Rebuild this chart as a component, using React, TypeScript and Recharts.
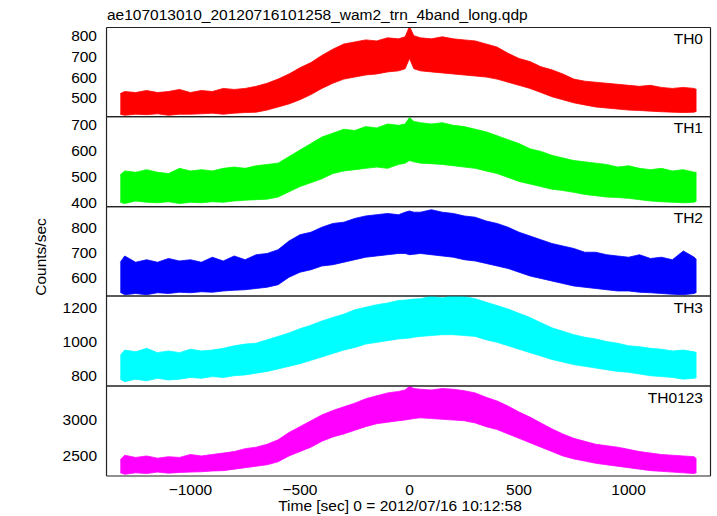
import { AreaChart, Area, XAxis, YAxis } from 'recharts';

const FONT = '"Liberation Sans", Arial, Helvetica, sans-serif';
const W = 717;
const H = 516;
const PLOT_LEFT = 106.5;
const PLOT_RIGHT = 710.5;
const FRAME = '#222';
const THIN = 0.01; // axes need a non-zero box to be drawn

// time bins [sec], with the low / high edge of the noisy band
const TIMES = [
  -1320, -1300, -1250, -1200, -1150, -1100, -1050, -1000, -950, -900, -850, -800, -750, -700, -650, -600,
  -550, -500, -450, -400, -350, -300, -250, -200, -150, -100, -50, -20, 0, 20, 50, 100, 150, 200, 250, 300,
  350, 400, 450, 500, 550, 600, 650, 700, 750, 800, 850, 900, 950, 1000, 1050, 1100, 1150, 1200, 1250, 1300, 1310,
];

const TH0_LO = [
  420, 415, 420, 418, 422, 415, 420, 420, 422, 425, 420, 425, 428, 430, 440, 455, 470, 490, 515, 545, 570, 590,
  600, 610, 615, 625, 630, 640, 690, 640, 630, 625, 620, 615, 610, 605, 600, 590, 575, 560, 545, 525, 505, 490,
  475, 465, 455, 450, 445, 440, 438, 435, 432, 430, 428, 430, 435,
];
const TH0_HI = [
  520, 530, 525, 535, 525, 530, 540, 525, 535, 530, 545, 540, 545, 555, 570, 590, 615, 645, 670, 705, 735, 760,
  770, 780, 775, 790, 785, 795, 845, 800, 790, 785, 795, 785, 780, 775, 760, 745, 715, 690, 675, 650, 635, 615,
  590, 580, 575, 570, 565, 560, 555, 560, 550, 545, 550, 545, 540,
];

const TH1_LO = [
  400, 395, 405, 400, 398, 402, 395, 400, 398, 402, 400, 405, 408, 410, 412, 420, 440, 460, 475, 490, 510, 520,
  525, 530, 535, 530, 545, 550, 560, 555, 550, 548, 545, 540, 535, 530, 520, 510, 495, 480, 470, 460, 450, 445,
  438, 430, 425, 420, 418, 415, 410, 405, 402, 400, 398, 400, 405,
];
const TH1_HI = [
  505, 520, 515, 525, 515, 510, 530, 520, 525, 520, 530, 535, 530, 540, 545, 550, 575, 600, 625, 650, 665, 680,
  675, 690, 685, 700, 695, 700, 725, 710, 705, 700, 705, 695, 690, 680, 670, 655, 640, 625, 605, 595, 580, 570,
  560, 555, 550, 545, 535, 540, 530, 525, 530, 520, 525, 515, 515,
];

const TH2_LO = [
  540, 530, 535, 530, 538, 535, 540, 538, 542, 540, 545, 548, 550, 555, 560, 570, 600, 620, 630, 645, 650, 660,
  670, 680, 685, 690, 695, 695, 690, 692, 695, 690, 685, 680, 670, 665, 655, 645, 635, 620, 605, 595, 585, 575,
  565, 560, 555, 550, 545, 545, 540, 538, 535, 532, 530, 535, 540,
];
const TH2_HI = [
  660, 685, 660, 670, 660, 675, 665, 670, 660, 680, 665, 685, 670, 690, 695, 710, 745, 770, 780, 800, 815, 820,
  835, 845, 850, 855, 850, 860, 865, 860, 860, 870, 860, 855, 845, 840, 825, 815, 800, 780, 765, 750, 735, 725,
  715, 700, 700, 690, 685, 680, 690, 675, 680, 670, 705, 680, 670,
];

const TH3_LO = [
  780, 765, 780, 770, 785, 775, 780, 790, 785, 795, 790, 800, 805, 815, 825, 840, 855, 870, 890, 910, 930, 950,
  965, 985, 995, 1005, 1015, 1018, 1020, 1025, 1030, 1035, 1040, 1040, 1035, 1030, 1010, 995, 975, 955, 935, 915,
  895, 880, 865, 855, 845, 835, 825, 820, 810, 800, 795, 790, 780, 785, 790,
];
const TH3_HI = [
  920, 950, 940, 960, 935, 945, 935, 955, 945, 950, 960, 975, 985, 990, 1010, 1030, 1050, 1075, 1095, 1120, 1140,
  1160, 1185, 1200, 1215, 1225, 1240, 1242, 1245, 1248, 1250, 1265, 1255, 1270, 1262, 1250, 1230, 1210, 1190, 1165,
  1140, 1110, 1080, 1060, 1040, 1025, 1015, 1000, 990, 975, 970, 960, 955, 945, 950, 940, 935,
];

const TH0123_LO = [
  2270, 2250, 2270, 2260, 2280, 2265, 2275, 2280, 2285, 2295, 2300, 2320, 2340, 2360, 2380, 2420, 2500, 2560, 2620,
  2700, 2760, 2800, 2850, 2900, 2940, 2960, 2980, 2990, 3000, 3010, 3020, 3010, 3000, 2990, 2980, 2950, 2900, 2860,
  2800, 2740, 2680, 2620, 2560, 2500, 2460, 2430, 2400, 2380, 2360, 2340, 2320, 2300, 2290, 2280, 2270, 2260, 2275,
];
const TH0123_HI = [
  2450, 2510, 2480, 2500, 2470, 2490, 2480, 2520, 2500, 2520, 2540, 2560, 2600, 2620, 2660, 2720, 2820, 2900, 2980,
  3060, 3120, 3170, 3220, 3280, 3320, 3360, 3380, 3400, 3450, 3420, 3410, 3400, 3420, 3410, 3390, 3360, 3300, 3250,
  3180, 3100, 3030, 2950, 2870, 2800, 2740, 2700, 2660, 2640, 2620, 2590, 2560, 2540, 2520, 2510, 2500, 2490, 2460,
];

const X_DOMAIN: [number, number] = [-1383, 1374];
const X_LABELS = [-1000, -500, 0, 500, 1000];

const steps = (from: number, to: number, step: number) => {
  const out: number[] = [];
  for (let v = from; v <= to + 1e-9; v += step) out.push(v);
  return out;
};
const X_MINOR = steps(-1300, 1300, 100);

const PANELS = [
  { name: 'TH0', color: '#ff0000', lo: TH0_LO, hi: TH0_HI, top: 27.5, bottom: 116.7, domain: [408, 840], labels: [500, 600, 700, 800], minor: steps(420, 840, 20) },
  { name: 'TH1', color: '#00ff00', lo: TH1_LO, hi: TH1_HI, top: 116.7, bottom: 206.7, domain: [383, 728], labels: [400, 500, 600, 700], minor: steps(400, 720, 20) },
  { name: 'TH2', color: '#0000ff', lo: TH2_LO, hi: TH2_HI, top: 206.7, bottom: 296, domain: [525, 882], labels: [600, 700, 800], minor: steps(540, 880, 20) },
  { name: 'TH3', color: '#00ffff', lo: TH3_LO, hi: TH3_HI, top: 296, bottom: 386, domain: [740, 1266], labels: [800, 1000, 1200], minor: steps(750, 1250, 50) },
  { name: 'TH0123', color: '#ff00ff', lo: TH0123_LO, hi: TH0123_HI, top: 386, bottom: 476, domain: [2227, 3454], labels: [2500, 3000], minor: steps(2300, 3400, 100) },
];

const fmt = (v: number) => (v < 0 ? `\u2212${-v}` : `${v}`);
const tickText = { fontSize: 15.5, fill: '#000', fontFamily: FONT };
const frameLine = { stroke: FRAME, strokeWidth: 1.2 };

function Panel({ p, last }: { p: (typeof PANELS)[number]; last: boolean }) {
  const rows = TIMES.map((t, i) => ({ t, r: [p.lo[i], p.hi[i]] }));
  const dom = p.domain as [number, number];
  return (
    <div style={{ position: 'absolute', left: 0, top: 0 }}>
      <AreaChart
        width={W}
        height={H}
        data={rows}
        margin={{ top: p.top, bottom: H - p.bottom, left: PLOT_LEFT, right: W - PLOT_RIGHT }}
      >
        <XAxis xAxisId="b" dataKey="t" type="number" domain={X_DOMAIN} allowDataOverflow orientation="bottom" mirror height={THIN}
          ticks={X_LABELS} interval={0} tickSize={5} tick={false} axisLine={frameLine} tickLine={frameLine} />
        <XAxis xAxisId="bm" dataKey="t" type="number" domain={X_DOMAIN} allowDataOverflow orientation="bottom" mirror height={THIN}
          ticks={X_MINOR} interval={0} tickSize={2.5} tick={false} axisLine={false} tickLine={frameLine} />
        <XAxis xAxisId="t" dataKey="t" type="number" domain={X_DOMAIN} allowDataOverflow orientation="top" mirror height={THIN}
          ticks={X_LABELS} interval={0} tickSize={5} tick={false} axisLine={frameLine} tickLine={frameLine} />
        <XAxis xAxisId="tm" dataKey="t" type="number" domain={X_DOMAIN} allowDataOverflow orientation="top" mirror height={THIN}
          ticks={X_MINOR} interval={0} tickSize={2.5} tick={false} axisLine={false} tickLine={frameLine} />
        {last && (
          <XAxis xAxisId="lab" dataKey="t" type="number" domain={X_DOMAIN} allowDataOverflow orientation="bottom" height={THIN}
            ticks={X_LABELS} interval={0} tickSize={0} tickMargin={8} tick={tickText} tickFormatter={fmt}
            axisLine={false} tickLine={false} />
        )}
        <YAxis yAxisId="l" type="number" domain={dom} allowDataOverflow orientation="left" mirror width={THIN}
          ticks={p.labels} interval={0} tickSize={5} tick={false} axisLine={frameLine} tickLine={frameLine} />
        <YAxis yAxisId="lm" type="number" domain={dom} allowDataOverflow orientation="left" mirror width={THIN}
          ticks={p.minor} interval={0} tickSize={2.5} tick={false} axisLine={false} tickLine={frameLine} />
        <YAxis yAxisId="r" type="number" domain={dom} allowDataOverflow orientation="right" mirror width={THIN}
          ticks={p.labels} interval={0} tickSize={5} tick={false} axisLine={frameLine} tickLine={frameLine} />
        <YAxis yAxisId="rm" type="number" domain={dom} allowDataOverflow orientation="right" mirror width={THIN}
          ticks={p.minor} interval={0} tickSize={2.5} tick={false} axisLine={false} tickLine={frameLine} />
        <YAxis yAxisId="lab" type="number" domain={dom} allowDataOverflow orientation="left" width={THIN}
          ticks={p.labels} interval={0} tickSize={0} tickMargin={9.5} tick={tickText}
          axisLine={false} tickLine={false} />
        <Area
          xAxisId="b"
          yAxisId="l"
          dataKey="r"
          type="linear"
          stroke={p.color}
          strokeWidth={0.8}
          fill={p.color}
          fillOpacity={1}
          dot={false}
          activeDot={false}
          isAnimationActive={false}
        />
      </AreaChart>
    </div>
  );
}

export default function App() {
  return (
    <div style={{ position: 'absolute', left: 0, top: 0, width: W, height: H, background: '#fff', fontFamily: FONT }}>
      {PANELS.map((p, i) => (
        <Panel key={p.name} p={p} last={i === PANELS.length - 1} />
      ))}
      <svg width={W} height={H} style={{ position: 'absolute', left: 0, top: 0, pointerEvents: 'none' }}>
        <text x={107} y={20} fontSize={15.5} fontFamily={FONT} fill="#000">
          ae107013010_20120716101258_wam2_trn_4band_long.qdp
        </text>
        <text x={46} y={257} fontSize={15.5} fontFamily={FONT} fill="#000" textAnchor="middle" transform="rotate(-90 46 257)">
          Counts/sec
        </text>
        <text x={400} y={511} fontSize={15.5} fontFamily={FONT} fill="#000" textAnchor="middle">
          Time [sec] 0 = 2012/07/16 10:12:58
        </text>
        {PANELS.map((p) => (
          <text key={p.name} x={703} y={p.top + 16.5} fontSize={15.5} fontFamily={FONT} fill="#000" textAnchor="end">
            {p.name}
          </text>
        ))}
      </svg>
    </div>
  );
}
